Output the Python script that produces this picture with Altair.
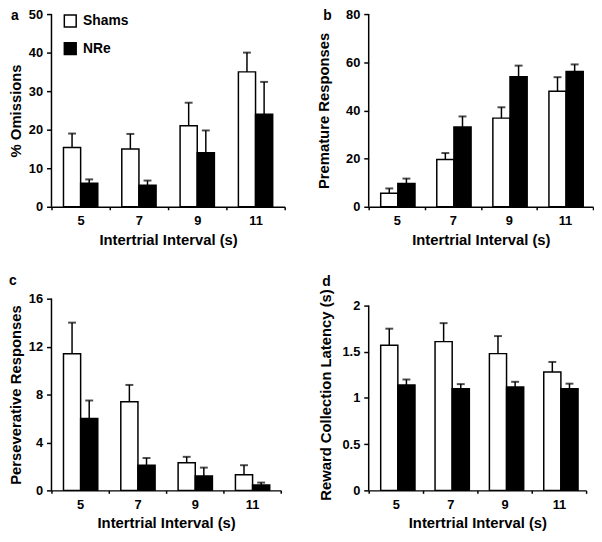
import altair as alt
import pandas as pd

intervals = ["5", "7", "9", "11"]
groups = ["Shams", "NRe"]

omis_sham = [15.4, 15.0, 21.0, 35.0]
omis_sham_err = [3.6, 3.9, 6.0, 5.0]
omis_nre = [6.1, 5.6, 14.0, 24.0]
omis_nre_err = [1.0, 1.2, 5.8, 8.4]

prem_sham = [5.6, 19.6, 36.8, 48.0]
prem_sham_err = [2.0, 2.7, 4.5, 5.8]
prem_nre = [9.7, 33.1, 54.0, 56.2]
prem_nre_err = [2.0, 4.4, 4.6, 2.9]

pers_sham = [11.4, 7.4, 2.3, 1.3]
pers_sham_err = [2.6, 1.4, 0.5, 0.8]
pers_nre = [6.0, 2.1, 1.2, 0.45]
pers_nre_err = [1.5, 0.6, 0.7, 0.2]

lat_sham = [1.57, 1.61, 1.48, 1.28]
lat_sham_err = [0.18, 0.20, 0.19, 0.11]
lat_nre = [1.14, 1.10, 1.12, 1.10]
lat_nre_err = [0.06, 0.05, 0.055, 0.055]

FONT = "Liberation Sans"


def panel(sham, sham_err, nre, nre_err, yticks, ydomain_max, ytitle, letter,
          width, height, title_x, letter_x, letter_y, show_legend=False):
    rows = []
    for i, iv in enumerate(intervals):
        rows.append({"interval": iv, "group": "Shams", "value": sham[i],
                     "upper": sham[i] + sham_err[i]})
        rows.append({"interval": iv, "group": "NRe", "value": nre[i],
                     "upper": nre[i] + nre_err[i]})
    df = pd.DataFrame(rows)

    x = alt.X("interval:N", sort=intervals,
              scale=alt.Scale(paddingInner=0, paddingOuter=0),
              axis=alt.Axis(title="Intertrial Interval (s)", labelAngle=0,
                            tickBand="extent", tickSize=3, labelPadding=5,
                            titleY=26))
    xo = alt.XOffset("group:N", sort=groups,
                     scale=alt.Scale(paddingInner=0, paddingOuter=0.7))
    yscale = alt.Scale(domain=[0, ydomain_max], nice=False)
    yaxis = alt.Axis(values=yticks, title=ytitle, titleX=title_x,
                     format="~f", tickSize=5, labelPadding=4,
                     domain=False, labelOverlap=False,
                     labelBound=False, labelFlush=False)

    if show_legend:
        legend = alt.Legend(title=None, orient="none", legendX=12, legendY=0,
                            symbolType="square", symbolSize=144,
                            symbolStrokeColor="black", symbolStrokeWidth=1.5,
                            labelFontSize=14, labelFont=FONT,
                            labelFontWeight="bold", labelColor="black",
                            labelOffset=6, rowPadding=10, padding=0)
    else:
        legend = None

    base = alt.Chart(df).encode(x=x, xOffset=xo)
    bars = base.mark_bar(stroke="black", strokeWidth=1.5).encode(
        y=alt.Y("value:Q", scale=yscale, axis=yaxis),
        fill=alt.Fill("group:N", sort=groups,
                      scale=alt.Scale(domain=groups, range=["white", "black"]),
                      legend=legend),
    )
    rules = base.mark_rule(color="black", strokeWidth=1.5).encode(
        y=alt.Y("value:Q", scale=yscale, axis=yaxis), y2="upper:Q")
    caps = base.mark_tick(color="black", thickness=2, size=8,
                          orient="horizontal").encode(
        y=alt.Y("upper:Q", scale=yscale, axis=yaxis))
    yline = alt.Chart(pd.DataFrame({"lo": [yticks[0]], "hi": [yticks[-1]]})).mark_rule(
        color="black", strokeWidth=1.5).encode(
        x=alt.value(0), y=alt.Y("lo:Q", scale=yscale, axis=yaxis), y2="hi:Q")
    text = alt.Chart(pd.DataFrame({"label": [letter]})).mark_text(
        align="left", baseline="alphabetic", fontSize=14, fontWeight="bold",
        font=FONT, color="black").encode(
        text="label:N", x=alt.value(letter_x), y=alt.value(letter_y))
    return alt.layer(bars, rules, caps, yline, text).properties(
        width=width, height=height)


H1 = 195
H2 = 194
pa = panel(omis_sham, omis_sham_err, omis_nre, omis_nre_err,
           [0, 10, 20, 30, 40, 50], 50, "% Omissions", "a", 236, H1,
           -41, -41, 5.5, show_legend=True) if False else panel(
           omis_sham, omis_sham_err, omis_nre, omis_nre_err,
           [0, 10, 20, 30, 40, 50], 50, "% Omissions", "a", 236, H1,
           -28, -41, 5.5, show_legend=True)
pb = panel(prem_sham, prem_sham_err, prem_nre, prem_nre_err,
           [0, 20, 40, 60, 80], 80.001, "Premature Responses", "b", 227, H1,
           -38, -46, 6)
pc = panel(pers_sham, pers_sham_err, pers_nre, pers_nre_err,
           [0, 4, 8, 12, 16], 16, "Perseverative Responses", "c", 232, H2,
           -28, -43, -14)
pd_ = panel(lat_sham, lat_sham_err, lat_nre, lat_nre_err,
            [0, 0.5, 1, 1.5, 2], 2 * H2 / (H2 - 7), "Reward Collection Latency (s)",
            "d", 220, H2, -36, -47, -13)

chart = alt.concat(pa, pb, pc, pd_, columns=2,
                   spacing={"row": 93, "column": 85}, bounds="flush").properties(
    padding={"top": -3, "left": 0, "right": 0, "bottom": 0}
).configure_view(stroke=None).configure_axis(
    grid=False, domainColor="black", domainWidth=1.5, tickColor="black",
    tickWidth=1.5, labelColor="black", titleColor="black", labelFont=FONT,
    titleFont=FONT, labelFontSize=13, titleFontSize=15,
    labelFontWeight="bold", titleFontWeight="bold"
)

chart.save("out.html", embed_options={"renderer": "svg", "actions": False})
